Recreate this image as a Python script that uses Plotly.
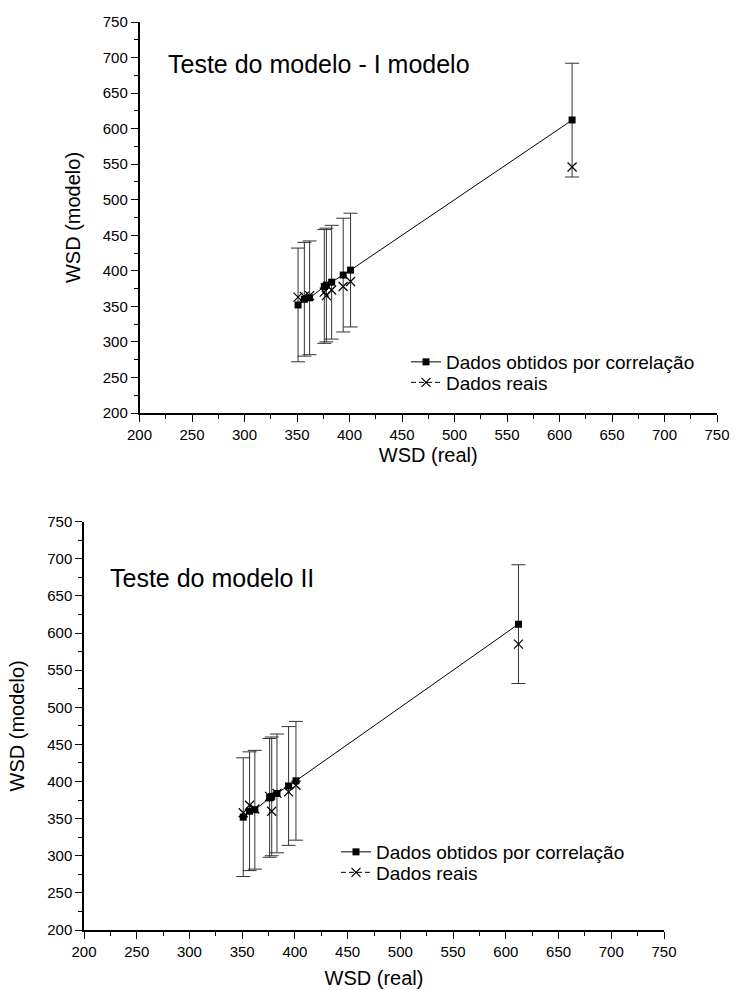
import plotly.graph_objects as go

# WSD (real) values shared by both model tests
wsd_real = [351, 357, 362, 376, 378, 383, 394, 401, 612]

# Values obtained by correlation, with symmetric error
wsd_corr = [352, 360, 362, 378, 380, 384, 394, 401, 612]
corr_err = [80, 80, 80, 80, 80, 80, 80, 80, 80]

# "Dados reais" series for each model test
reais_modelo_1 = [363, 364, 365, 370, 365, 373, 378, 385, 546]
reais_modelo_2 = [358, 368, 363, 380, 360, 384, 386, 395, 585]

titles = ["Teste do modelo - I modelo", "Teste do modelo II"]
axis_ticks = [200, 250, 300, 350, 400, 450, 500, 550, 600, 650, 700, 750]
label_corr = "Dados obtidos por correlação"
label_reais = "Dados reais"

W, H = 735, 990
FONT = "Liberation Sans, Arial, sans-serif"

# plot-area boxes in pixels: (left, right, top, bottom)
boxes = [(139.5, 717, 22, 413), (84, 664, 521.7, 930)]
# title anchor (left x, centre y) and legend anchor (text x, first row y)
title_pos = [(166, 64), (108, 578)]
legend_pos = [(455, 362), (385, 852)]
ROW = 20.5

fig = go.Figure()

for i, (reais, box) in enumerate(zip([reais_modelo_1, reais_modelo_2], boxes)):
    n = "" if i == 0 else "2"
    xa, ya = "x" + n, "y" + n
    leg_a = "legend" if i == 0 else "legend3"
    leg_b = "legend2" if i == 0 else "legend4"
    fig.add_trace(go.Scatter(
        x=wsd_real, y=wsd_corr, xaxis=xa, yaxis=ya, name=label_corr,
        mode="lines+markers", legend=leg_a,
        line=dict(color="black", width=1),
        marker=dict(symbol="square", size=7, color="black"),
        error_y=dict(type="data", array=corr_err, visible=True,
                     color="#333333", thickness=1, width=7),
    ))
    fig.add_trace(go.Scatter(
        x=wsd_real, y=reais, xaxis=xa, yaxis=ya, name=label_reais,
        mode="markers", showlegend=False,
        marker=dict(symbol="x-thin", size=9, color="black",
                    line=dict(color="black", width=1.2)),
    ))
    # legend key for the real data: dashed line with a cross
    fig.add_trace(go.Scatter(
        x=[None], y=[None], xaxis=xa, yaxis=ya, name=label_reais,
        mode="lines+markers", legend=leg_b,
        line=dict(color="black", width=1, dash="5px,3px"),
        marker=dict(symbol="x-thin", size=9, color="black",
                    line=dict(color="black", width=1.2)),
    ))

layout = dict(
    width=W, height=H, margin=dict(l=0, r=0, t=0, b=0),
    paper_bgcolor="white", plot_bgcolor="white",
    font=dict(family=FONT, color="black", size=15),
    showlegend=True,
)

annotations = []
legend_base = dict(bgcolor="rgba(0,0,0,0)", borderwidth=0,
                   font=dict(size=19, family=FONT), tracegroupgap=0,
                   xanchor="left", yanchor="middle")
for i, (l, r, t, b) in enumerate(boxes):
    n = "" if i == 0 else str(i + 1)
    dx = [l / W, r / W]
    dy = [1 - b / H, 1 - t / H]
    base = dict(range=[200, 750], tickvals=axis_ticks, showgrid=False,
                zeroline=False, showline=True, linecolor="black", linewidth=1.5,
                ticks="outside", ticklen=7, tickwidth=1.2, tickcolor="black",
                minor=dict(dtick=25, ticks="outside", ticklen=4, tickwidth=1.2,
                           tickcolor="black", showgrid=False),
                tickfont=dict(size=15, family=FONT), automargin=False)
    layout["xaxis" + n] = dict(base, domain=dx, anchor="y" + n,
                               title=dict(text="WSD (real)", font=dict(size=20),
                                          standoff=6 if i == 0 else 12))
    layout["yaxis" + n] = dict(base, domain=dy, anchor="x" + n,
                               title=dict(text="WSD (modelo)", font=dict(size=20), standoff=17))
    # inward ticks on the top and right edges of the frame
    k = str(i + 3)
    inner = dict(range=[200, 750], tickvals=axis_ticks, showgrid=False,
                 zeroline=False, showline=True, linecolor="black", linewidth=1.5,
                 ticks="inside", ticklen=5, tickwidth=1.2, tickcolor="black",
                 minor=dict(dtick=25, ticks="inside", ticklen=3, tickwidth=1.2,
                            tickcolor="black", showgrid=False),
                 showticklabels=False, automargin=False)
    layout["xaxis" + k] = dict(inner, overlaying="x" + n, side="top", anchor="y" + n)
    layout["yaxis" + k] = dict(inner, overlaying="y" + n, side="right", anchor="x" + n)

    tx, ty = title_pos[i]
    annotations.append(dict(
        text=titles[i], xref="paper", yref="paper",
        x=tx / W, y=1 - ty / H, xanchor="left", yanchor="middle",
        showarrow=False, font=dict(size=25, family=FONT)))

    lx, ly = legend_pos[i]
    la = "legend" if i == 0 else "legend3"
    lb = "legend2" if i == 0 else "legend4"
    layout[la] = dict(legend_base, x=(lx - 49) / W, y=1 - ly / H)
    layout[lb] = dict(legend_base, x=(lx - 49) / W, y=1 - (ly + ROW) / H)

layout["annotations"] = annotations

fig.update_layout(**layout)
fig.write_html("out.html")
